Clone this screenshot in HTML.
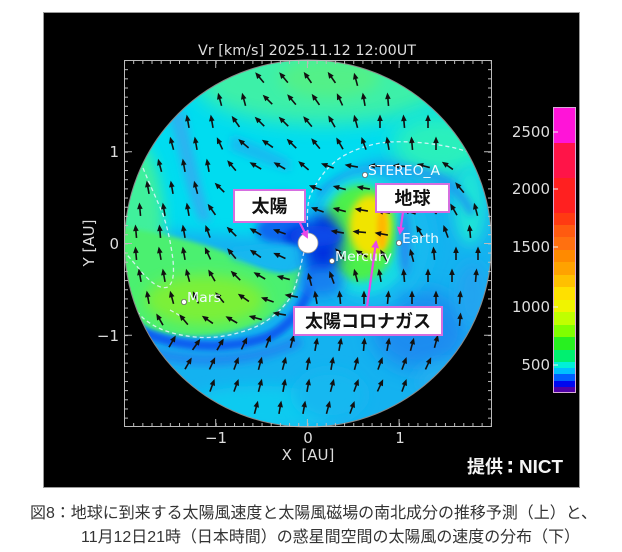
<!DOCTYPE html>
<html><head><meta charset="utf-8"><style>
html,body{margin:0;padding:0;background:#fff;}
svg{display:block;}
</style></head><body>
<svg width="622" height="552" viewBox="0 0 622 552" xmlns="http://www.w3.org/2000/svg">
<defs>
<clipPath id="cc"><circle cx="308" cy="243.5" r="183.5"/></clipPath>
<filter id="b2" x="-50%" y="-50%" width="200%" height="200%"><feGaussianBlur stdDeviation="2.5"/></filter>
<filter id="b4" x="-50%" y="-50%" width="200%" height="200%"><feGaussianBlur stdDeviation="4"/></filter>
<filter id="b7" x="-50%" y="-50%" width="200%" height="200%"><feGaussianBlur stdDeviation="7"/></filter>
<filter id="b10" x="-50%" y="-50%" width="200%" height="200%"><feGaussianBlur stdDeviation="10"/></filter>
<pattern id="th" x="124" y="0" width="9.17" height="10" patternUnits="userSpaceOnUse"><rect x="0" y="0" width="1" height="10" fill="#bbb"/></pattern>
<pattern id="tv" x="0" y="60" width="10" height="9.17" patternUnits="userSpaceOnUse"><rect x="0" y="0" width="10" height="1" fill="#bbb"/></pattern>
<g id="ar"><path d="M0,6V-2" stroke="#111" stroke-width="1.6"/><path d="M0,-7.5L-2.8,-1L2.8,-1Z" fill="#111"/></g>
<marker id="mh" markerWidth="8" markerHeight="8" refX="6" refY="4" orient="auto" markerUnits="userSpaceOnUse"><path d="M0,0L8,4L0,8Z" fill="#e848e8"/></marker>
</defs>

<rect x="43.5" y="12.5" width="536" height="475" fill="#000" stroke="#9a9a9a" stroke-width="1"/>

<text x="307" y="55" text-anchor="middle" font-family="DejaVu Sans, Liberation Sans, sans-serif" font-size="14" fill="#dddddd" textLength="218" lengthAdjust="spacingAndGlyphs">Vr [km/s] 2025.11.12 12:00UT</text>

<g clip-path="url(#cc)">
<rect x="110" y="50" width="400" height="400" fill="#14b2f0"/>
<path d="M110,50 H510 V182 C470,166 420,152 380,158 C345,166 322,190 312,232 L290,236 C250,238 200,232 110,226 Z" fill="#00dcf0" filter="url(#b7)"/>
<ellipse cx="322" cy="84" rx="125" ry="40" fill="#3cf0a8" filter="url(#b10)"/>
<ellipse cx="330" cy="78" rx="50" ry="20" fill="#52f088" filter="url(#b7)"/>
<ellipse cx="440" cy="145" rx="48" ry="30" fill="#2cf0bc" filter="url(#b10)"/>
<ellipse cx="470" cy="205" rx="16" ry="40" fill="#1ee4d8" filter="url(#b7)"/>
<path d="M168,115 C180,150 184,190 200,222 L212,220 C200,188 194,150 184,110 Z" fill="#2cb4f0" filter="url(#b4)"/>
<path d="M232,135 C252,142 270,150 290,160 L290,172 C270,166 250,158 230,150 Z" fill="#18bcf0" filter="url(#b4)"/>
<ellipse cx="282" cy="212" rx="26" ry="16" fill="#1c9cf0" filter="url(#b7)"/>
<ellipse cx="286" cy="230" rx="30" ry="15" fill="#0c68f0" filter="url(#b4)"/>
<ellipse cx="300" cy="238" rx="16" ry="10" fill="#0030e0" filter="url(#b4)"/>
<ellipse cx="134" cy="232" rx="30" ry="92" fill="#40f09c" filter="url(#b7)"/>
<path d="M112,226 C160,232 200,242 230,254 C260,266 285,282 302,264 C300,290 286,308 266,320 C236,336 186,342 150,330 C134,320 124,305 112,290 Z" fill="#4cf070" filter="url(#b2)"/>
<ellipse cx="205" cy="300" rx="60" ry="25" fill="#7cf038" filter="url(#b7)"/>
<path d="M230,250 C252,248 280,244 304,244 L304,264 C288,280 262,266 232,258 Z" fill="#18b8f0" filter="url(#b4)"/>
<path d="M135,328 C170,348 230,352 270,336 C296,322 311,296 316,264" stroke="#0a60f0" stroke-width="10" fill="none" filter="url(#b2)"/>
<path d="M150,352 C200,366 260,360 300,340" stroke="#1c8cf0" stroke-width="12" fill="none" filter="url(#b4)"/>
<ellipse cx="260" cy="408" rx="75" ry="22" fill="#10caf0" filter="url(#b7)"/>
<ellipse cx="330" cy="395" rx="35" ry="25" fill="#18b8f0" filter="url(#b7)"/>
<ellipse cx="420" cy="330" rx="48" ry="40" fill="#1a8cf0" filter="url(#b10)"/>
<ellipse cx="445" cy="382" rx="30" ry="20" fill="#20aef0" filter="url(#b7)"/>
<ellipse cx="472" cy="295" rx="16" ry="32" fill="#24a4f0" filter="url(#b7)"/>
<ellipse cx="400" cy="292" rx="9" ry="7" fill="#1068f0" filter="url(#b4)"/>
<path d="M318,196 C340,174 380,166 420,172 C446,177 462,192 472,214" stroke="#1e98f0" stroke-width="8" fill="none" filter="url(#b4)"/>
<ellipse cx="372" cy="240" rx="62" ry="70" fill="#14baf0" filter="url(#b7)"/>
<ellipse cx="364" cy="235" rx="50" ry="60" fill="#16dae4" filter="url(#b4)"/>
<ellipse cx="360" cy="233" rx="37" ry="48" fill="#4cf04c" filter="url(#b4)"/>
<ellipse cx="370" cy="226" rx="21" ry="31" fill="#f0e400" filter="url(#b4)"/>
<ellipse cx="382" cy="228" rx="5" ry="22" fill="#ffb800" filter="url(#b2)"/>
<ellipse cx="405" cy="242" rx="7" ry="34" fill="#2090f0" filter="url(#b4)"/>
<ellipse cx="323" cy="246" rx="18" ry="34" fill="#0030e0" filter="url(#b7)"/>
<ellipse cx="316" cy="236" rx="26" ry="10" fill="#1048e8" filter="url(#b4)"/>
<ellipse cx="322" cy="282" rx="22" ry="14" fill="#1880f0" filter="url(#b7)"/>

<g stroke="#e8f4ff" stroke-width="1.3" fill="none" stroke-dasharray="4 3" opacity="0.85">
<path d="M308,234 C307,218 307,205 310,196 C318,178 330,163 345,155 C360,147 375,143 390,142 C410,141 432,143 455,148 C470,152 480,156 492,162"/>
<path d="M304,252 C300,268 297,285 290,298 C282,310 268,322 253,328 C235,335 215,339 195,337 C175,335 157,330 143,318 C135,310 128,300 122,292"/>
<path d="M143,168 C150,185 157,200 162,212 C168,228 171,245 173,260 C174,272 174,282 168,287 C160,290 150,282 140,270 C133,262 128,255 122,250"/>
<path d="M170,310 C175,313 180,315 182,318" />
</g>

<g>
<use href="#ar" transform="translate(260,78) rotate(-40)"/><use href="#ar" transform="translate(284,78) rotate(-40)"/><use href="#ar" transform="translate(308,78) rotate(-35)"/><use href="#ar" transform="translate(332,78) rotate(-35)"/><use href="#ar" transform="translate(356,80) rotate(-15)"/>
<use href="#ar" transform="translate(220,100) rotate(-15)"/><use href="#ar" transform="translate(244,100) rotate(-15)"/><use href="#ar" transform="translate(268,100) rotate(-45)"/><use href="#ar" transform="translate(292,100) rotate(-40)"/><use href="#ar" transform="translate(316,100) rotate(-35)"/><use href="#ar" transform="translate(340,100) rotate(-25)"/><use href="#ar" transform="translate(364,100) rotate(-10)"/><use href="#ar" transform="translate(388,100) rotate(-5)"/>
<use href="#ar" transform="translate(188,122) rotate(-10)"/><use href="#ar" transform="translate(212,122) rotate(-10)"/><use href="#ar" transform="translate(236,122) rotate(-35)"/><use href="#ar" transform="translate(260,122) rotate(-45)"/><use href="#ar" transform="translate(284,122) rotate(-45)"/><use href="#ar" transform="translate(308,122) rotate(-40)"/><use href="#ar" transform="translate(332,122) rotate(-30)"/><use href="#ar" transform="translate(356,122) rotate(-15)"/><use href="#ar" transform="translate(380,122) rotate(0)"/><use href="#ar" transform="translate(404,122) rotate(-5)"/><use href="#ar" transform="translate(428,122) rotate(0)"/>
<use href="#ar" transform="translate(172,144) rotate(-15)"/><use href="#ar" transform="translate(196,144) rotate(-10)"/><use href="#ar" transform="translate(220,144) rotate(-25)"/><use href="#ar" transform="translate(244,144) rotate(-50)"/><use href="#ar" transform="translate(268,144) rotate(-55)"/><use href="#ar" transform="translate(292,144) rotate(-45)"/><use href="#ar" transform="translate(316,144) rotate(-40)"/><use href="#ar" transform="translate(340,144) rotate(-30)"/><use href="#ar" transform="translate(364,144) rotate(-20)"/><use href="#ar" transform="translate(388,144) rotate(-10)"/><use href="#ar" transform="translate(412,144) rotate(-5)"/><use href="#ar" transform="translate(436,144) rotate(0)"/>
<use href="#ar" transform="translate(160,166) rotate(-15)"/><use href="#ar" transform="translate(184,166) rotate(-10)"/><use href="#ar" transform="translate(208,166) rotate(-10)"/><use href="#ar" transform="translate(232,166) rotate(-40)"/><use href="#ar" transform="translate(256,166) rotate(-60)"/><use href="#ar" transform="translate(280,166) rotate(-60)"/><use href="#ar" transform="translate(304,166) rotate(-50)"/><use href="#ar" transform="translate(328,166) rotate(-70)"/><use href="#ar" transform="translate(352,166) rotate(-80)"/><use href="#ar" transform="translate(376,166) rotate(-85)"/><use href="#ar" transform="translate(400,166) rotate(-85)"/><use href="#ar" transform="translate(424,166) rotate(-75)"/><use href="#ar" transform="translate(448,166) rotate(-55)"/>
<use href="#ar" transform="translate(148,188) rotate(-10)"/><use href="#ar" transform="translate(172,188) rotate(-10)"/><use href="#ar" transform="translate(196,188) rotate(-15)"/><use href="#ar" transform="translate(220,188) rotate(-45)"/><use href="#ar" transform="translate(316,188) rotate(-70)"/><use href="#ar" transform="translate(340,188) rotate(-75)"/><use href="#ar" transform="translate(364,188) rotate(-80)"/><use href="#ar" transform="translate(460,188) rotate(-40)"/>
<use href="#ar" transform="translate(140,210) rotate(-5)"/><use href="#ar" transform="translate(164,210) rotate(-10)"/><use href="#ar" transform="translate(188,210) rotate(-10)"/><use href="#ar" transform="translate(212,210) rotate(-35)"/><use href="#ar" transform="translate(318,210) rotate(-70)"/><use href="#ar" transform="translate(340,210) rotate(-75)"/><use href="#ar" transform="translate(362,210) rotate(-80)"/><use href="#ar" transform="translate(384,212) rotate(-80)"/><use href="#ar" transform="translate(410,212) rotate(-70)"/><use href="#ar" transform="translate(432,210) rotate(-50)"/><use href="#ar" transform="translate(454,210) rotate(-30)"/><use href="#ar" transform="translate(476,210) rotate(-15)"/>
<use href="#ar" transform="translate(136,232) rotate(-5)"/><use href="#ar" transform="translate(160,232) rotate(-5)"/><use href="#ar" transform="translate(184,232) rotate(-10)"/><use href="#ar" transform="translate(208,232) rotate(-20)"/><use href="#ar" transform="translate(232,232) rotate(-45)"/><use href="#ar" transform="translate(256,232) rotate(-60)"/><use href="#ar" transform="translate(280,232) rotate(-70)"/><use href="#ar" transform="translate(338,232) rotate(-80)"/><use href="#ar" transform="translate(360,232) rotate(-85)"/><use href="#ar" transform="translate(382,234) rotate(-80)"/><use href="#ar" transform="translate(420,232) rotate(-30)"/><use href="#ar" transform="translate(446,232) rotate(-20)"/><use href="#ar" transform="translate(470,232) rotate(-5)"/>
<use href="#ar" transform="translate(136,254) rotate(-5)"/><use href="#ar" transform="translate(160,254) rotate(-10)"/><use href="#ar" transform="translate(184,254) rotate(-10)"/><use href="#ar" transform="translate(208,254) rotate(-25)"/><use href="#ar" transform="translate(232,254) rotate(-40)"/><use href="#ar" transform="translate(256,254) rotate(-55)"/><use href="#ar" transform="translate(280,256) rotate(-65)"/><use href="#ar" transform="translate(340,254) rotate(-40)"/><use href="#ar" transform="translate(362,254) rotate(-60)"/><use href="#ar" transform="translate(384,256) rotate(-30)"/><use href="#ar" transform="translate(412,256) rotate(-15)"/><use href="#ar" transform="translate(434,254) rotate(-5)"/><use href="#ar" transform="translate(456,254) rotate(0)"/><use href="#ar" transform="translate(478,254) rotate(0)"/>
<use href="#ar" transform="translate(140,276) rotate(-10)"/><use href="#ar" transform="translate(164,276) rotate(-10)"/><use href="#ar" transform="translate(188,276) rotate(-15)"/><use href="#ar" transform="translate(212,276) rotate(-30)"/><use href="#ar" transform="translate(236,276) rotate(-45)"/><use href="#ar" transform="translate(260,276) rotate(-60)"/><use href="#ar" transform="translate(284,278) rotate(-75)"/><use href="#ar" transform="translate(310,280) rotate(-15)"/><use href="#ar" transform="translate(332,278) rotate(-20)"/><use href="#ar" transform="translate(356,276) rotate(-15)"/><use href="#ar" transform="translate(380,276) rotate(-10)"/><use href="#ar" transform="translate(404,276) rotate(-5)"/><use href="#ar" transform="translate(428,276) rotate(0)"/><use href="#ar" transform="translate(452,276) rotate(0)"/><use href="#ar" transform="translate(476,276) rotate(5)"/>
<use href="#ar" transform="translate(148,298) rotate(-10)"/><use href="#ar" transform="translate(172,298) rotate(-15)"/><use href="#ar" transform="translate(196,298) rotate(-25)"/><use href="#ar" transform="translate(220,298) rotate(-40)"/><use href="#ar" transform="translate(244,298) rotate(-55)"/><use href="#ar" transform="translate(268,300) rotate(-70)"/><use href="#ar" transform="translate(292,296) rotate(-80)"/><use href="#ar" transform="translate(316,298) rotate(-10)"/><use href="#ar" transform="translate(340,298) rotate(-5)"/><use href="#ar" transform="translate(364,298) rotate(0)"/><use href="#ar" transform="translate(388,298) rotate(5)"/><use href="#ar" transform="translate(412,298) rotate(0)"/><use href="#ar" transform="translate(436,298) rotate(0)"/><use href="#ar" transform="translate(460,298) rotate(5)"/>
<use href="#ar" transform="translate(160,320) rotate(-30)"/><use href="#ar" transform="translate(184,320) rotate(-40)"/><use href="#ar" transform="translate(208,320) rotate(-55)"/><use href="#ar" transform="translate(232,320) rotate(-60)"/><use href="#ar" transform="translate(256,318) rotate(-75)"/><use href="#ar" transform="translate(280,314) rotate(-80)"/><use href="#ar" transform="translate(460,320) rotate(5)"/>
<use href="#ar" transform="translate(172,342) rotate(30)"/><use href="#ar" transform="translate(196,345) rotate(35)"/><use href="#ar" transform="translate(220,345) rotate(30)"/><use href="#ar" transform="translate(244,344) rotate(25)"/><use href="#ar" transform="translate(268,342) rotate(20)"/><use href="#ar" transform="translate(292,342) rotate(15)"/><use href="#ar" transform="translate(316,345) rotate(10)"/><use href="#ar" transform="translate(340,345) rotate(10)"/><use href="#ar" transform="translate(364,345) rotate(5)"/><use href="#ar" transform="translate(388,345) rotate(10)"/><use href="#ar" transform="translate(412,345) rotate(15)"/><use href="#ar" transform="translate(436,342) rotate(15)"/>
<use href="#ar" transform="translate(188,364) rotate(30)"/><use href="#ar" transform="translate(212,364) rotate(25)"/><use href="#ar" transform="translate(236,364) rotate(20)"/><use href="#ar" transform="translate(260,364) rotate(15)"/><use href="#ar" transform="translate(284,364) rotate(15)"/><use href="#ar" transform="translate(308,364) rotate(10)"/><use href="#ar" transform="translate(332,364) rotate(10)"/><use href="#ar" transform="translate(356,364) rotate(15)"/><use href="#ar" transform="translate(380,364) rotate(20)"/><use href="#ar" transform="translate(404,364) rotate(20)"/><use href="#ar" transform="translate(428,364) rotate(25)"/>
<use href="#ar" transform="translate(212,386) rotate(20)"/><use href="#ar" transform="translate(236,386) rotate(20)"/><use href="#ar" transform="translate(260,386) rotate(15)"/><use href="#ar" transform="translate(284,386) rotate(10)"/><use href="#ar" transform="translate(308,386) rotate(10)"/><use href="#ar" transform="translate(332,386) rotate(15)"/><use href="#ar" transform="translate(356,386) rotate(20)"/><use href="#ar" transform="translate(380,386) rotate(25)"/><use href="#ar" transform="translate(404,386) rotate(20)"/>
<use href="#ar" transform="translate(256,408) rotate(15)"/><use href="#ar" transform="translate(280,408) rotate(10)"/><use href="#ar" transform="translate(304,408) rotate(10)"/><use href="#ar" transform="translate(328,408) rotate(15)"/><use href="#ar" transform="translate(352,408) rotate(20)"/>
</g>
</g>
<circle cx="308" cy="243.5" r="183.5" fill="none" stroke="#8a8a8a" stroke-width="1"/>

<rect x="124.5" y="60.5" width="367" height="366" fill="none" stroke="#bbb" stroke-width="1"/>
<rect x="124" y="60" width="368" height="4" fill="url(#th)"/>
<rect x="124" y="423" width="368" height="4" fill="url(#th)"/>
<rect x="124" y="60" width="4" height="367" fill="url(#tv)"/>
<rect x="488" y="60" width="4" height="367" fill="url(#tv)"/>
<g stroke="#bbb" stroke-width="1">
<path d="M215.7,60V68M307.4,60V68M399.1,60V68M215.7,427V419M307.4,427V419M399.1,427V419M124,151.7H132M124,243.5H132M124,335.2H132M492,151.7H484M492,243.5H484M492,335.2H484"/>
</g>

<g font-family="DejaVu Sans, Liberation Sans, sans-serif" font-size="15" fill="#dddddd">
<text x="216" y="443" text-anchor="middle">−1</text>
<text x="308" y="443" text-anchor="middle">0</text>
<text x="400" y="443" text-anchor="middle">1</text>
<text x="308" y="460" text-anchor="middle" xml:space="preserve">X  [AU]</text>
<text x="119" y="157" text-anchor="end">1</text>
<text x="119" y="249" text-anchor="end">0</text>
<text x="119" y="341" text-anchor="end">−1</text>
<text x="0" y="0" text-anchor="middle" transform="translate(94,243) rotate(-90)">Y [AU]</text>
</g>

<g>
<rect x="553" y="107" width="23" height="36" fill="#ff14d8"/>
<rect x="553" y="143" width="23" height="35" fill="#ff1448"/>
<rect x="553" y="178" width="23" height="35" fill="#ff2020"/>
<rect x="553" y="213" width="23" height="12" fill="#ff3a12"/>
<rect x="553" y="225" width="23" height="12" fill="#ff5a10"/>
<rect x="553" y="237" width="23" height="13" fill="#ff7010"/>
<rect x="553" y="250" width="23" height="12" fill="#ff8a00"/>
<rect x="553" y="262" width="23" height="13" fill="#ffa200"/>
<rect x="553" y="275" width="23" height="12" fill="#ffc000"/>
<rect x="553" y="287" width="23" height="13" fill="#ffe000"/>
<rect x="553" y="300" width="23" height="12" fill="#f0f400"/>
<rect x="553" y="312" width="23" height="13" fill="#c0ff00"/>
<rect x="553" y="325" width="23" height="12" fill="#80ff00"/>
<rect x="553" y="337" width="23" height="13" fill="#28f020"/>
<rect x="553" y="350" width="23" height="12" fill="#00f070"/>
<rect x="553" y="362" width="23" height="6" fill="#00f0d8"/>
<rect x="553" y="368" width="23" height="6" fill="#00c0ff"/>
<rect x="553" y="374" width="23" height="7" fill="#0060ff"/>
<rect x="553" y="381" width="23" height="6" fill="#0008f0"/>
<rect x="553" y="387" width="23" height="6" fill="#5000a8"/>
<rect x="553.5" y="107.5" width="22" height="285" fill="none" stroke="#d8a8d8" stroke-width="1"/>
<g stroke="#eeeeee" stroke-width="1"><path d="M553,132H558M553,189H558M553,247H558M553,307H558M553,365H558"/></g>
<g font-family="DejaVu Sans, Liberation Sans, sans-serif" font-size="15" fill="#dddddd" text-anchor="end">
<text x="550" y="137">2500</text>
<text x="550" y="194">2000</text>
<text x="550" y="252">1500</text>
<text x="550" y="312">1000</text>
<text x="550" y="370">500</text>
</g>
</g>

<circle cx="308" cy="243" r="10" fill="#fff" stroke="#999" stroke-width="0.8"/>
<g fill="#fff" stroke="#666" stroke-width="0.8">
<circle cx="365" cy="175" r="2.6"/>
<circle cx="399" cy="243" r="2.6"/>
<circle cx="332" cy="261" r="2.6"/>
<circle cx="184" cy="302" r="2.6"/>
</g>
<g font-family="DejaVu Sans, Liberation Sans, sans-serif" font-size="13" fill="#f0faff">
<text x="368" y="175" textLength="72" lengthAdjust="spacingAndGlyphs">STEREO_A</text>
<text x="402" y="243" textLength="37" lengthAdjust="spacingAndGlyphs">Earth</text>
<text x="335" y="261" textLength="57" lengthAdjust="spacingAndGlyphs">Mercury</text>
<text x="187" y="302" textLength="34" lengthAdjust="spacingAndGlyphs">Mars</text>
</g>

<g stroke="#e848e8" stroke-width="2.2" fill="none">
<path d="M299,221 L307,237" marker-end="url(#mh)"/>
<path d="M403,212 L400,233" marker-end="url(#mh)"/>
<path d="M367,307 L376,242" marker-end="url(#mh)"/>
</g>

<g fill="#fff" stroke="#d66ee0" stroke-width="2">
<rect x="234" y="190" width="71" height="32"/>
<rect x="376" y="184" width="73" height="28"/>
<rect x="294" y="307" width="148" height="28"/>
</g>
<g font-family="Liberation Sans, Noto Sans CJK JP, sans-serif" font-size="18" font-weight="bold" fill="#111" text-anchor="middle">
<text x="269.5" y="212.5">太陽</text>
<text x="412.5" y="204.5">地球</text>
<text x="368" y="327.5" textLength="126" lengthAdjust="spacingAndGlyphs">太陽コロナガス</text>
</g>

<g font-weight="bold" fill="#f4f4f4">
<text x="467" y="473" font-family="Liberation Sans, Noto Sans CJK JP, sans-serif" font-size="18">提供</text>
<text x="519" y="473" font-family="Liberation Sans, sans-serif" font-size="18" textLength="44" lengthAdjust="spacingAndGlyphs">NICT</text>
<rect x="508.5" y="461" width="3.5" height="3.5" fill="#f4f4f4"/>
<rect x="508.5" y="469" width="3.5" height="3.5" fill="#f4f4f4"/>
</g>

<g font-family="Liberation Sans, Noto Sans CJK JP, sans-serif" font-size="16" fill="#333">
<text x="30" y="518" textLength="567" lengthAdjust="spacingAndGlyphs">図8：地球に到来する太陽風速度と太陽風磁場の南北成分の推移予測（上）と、</text>
<text x="81" y="542" textLength="499" lengthAdjust="spacingAndGlyphs">11月12日21時（日本時間）の惑星間空間の太陽風の速度の分布（下）</text>
</g>
</svg>
</body></html>
